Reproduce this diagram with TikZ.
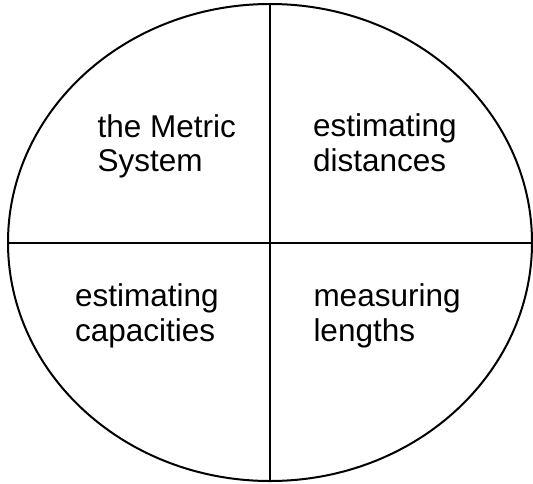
\documentclass[tikz,border=0pt]{standalone}
\usepackage{fontspec}
\setmainfont{Liberation Sans}
\usetikzlibrary{shapes.geometric}
\begin{document}
\begin{tikzpicture}[x=1pt,y=-1pt,
  outline/.style={draw=black,line width=2pt},
  lbl/.style={anchor=base west,inner sep=0pt,outer sep=0pt,font=\fontsize{31.5}{36}\selectfont}]
\useasboundingbox (0,0) rectangle (533,483);
\node[ellipse,outline,minimum width=524pt,minimum height=477pt,inner sep=0pt,outer sep=0pt] (e) at (270,242.5) {};
\draw[outline] (e.north) -- (e.south);
\draw[outline] (e.west) -- (e.east);
\node[lbl] (tl1) at (97.5,137.3) {the Metric};
\node[lbl] (tl2) at (97.5,171.5) {System};
\node[lbl] (tr1) at (313,136.7) {estimating};
\node[lbl] (tr2) at (313,171.5) {distances};
\node[lbl] (bl1) at (75,306.7) {estimating};
\node[lbl] (bl2) at (75,341) {capacities};
\node[lbl] (br1) at (313.5,306.7) {measuring};
\node[lbl] (br2) at (313.5,341) {lengths};
\end{tikzpicture}
\end{document}
